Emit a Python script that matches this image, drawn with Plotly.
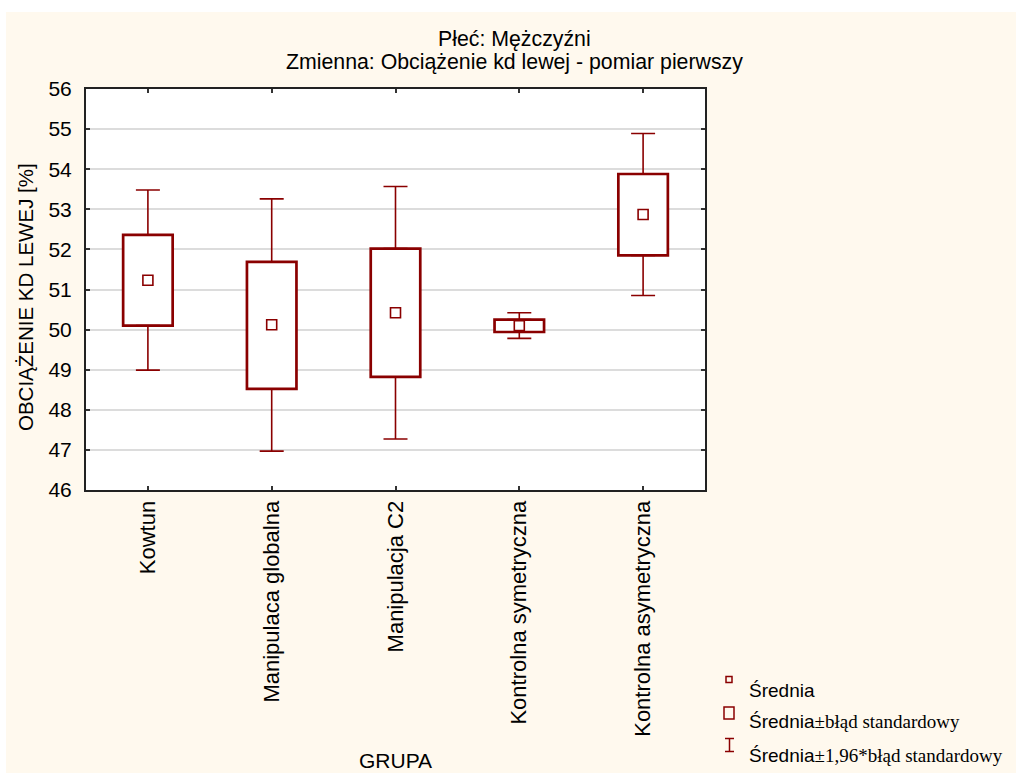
import plotly.graph_objects as go

# Group labels and summary statistics (mean, mean ± SE, mean ± 1.96*SE)
groups = ["Kowtun", "Manipulaca globalna", "Manipulacja C2",
          "Kontrolna symetryczna", "Kontrolna asymetryczna"]
means = [51.23, 50.12, 50.42, 50.10, 52.87]
se_low = [50.10, 48.52, 48.82, 49.94, 51.85]
se_high = [52.36, 51.69, 52.02, 50.25, 53.88]
ci_low = [48.99, 46.97, 47.27, 49.78, 50.85]
ci_high = [53.48, 53.26, 53.57, 50.42, 54.89]

y_ticks = [46, 47, 48, 49, 50, 51, 52, 53, 54, 55, 56]

DARKRED = "#8a0000"
CREAM = "#fff9ee"
SANS = "Liberation Sans, Arial, sans-serif"
SERIF = "Liberation Serif, Times New Roman, serif"

W, H = 1016, 773
ML, MR, MT, MB = 86, 311, 89, 283
PW = W - ML - MR
PH = H - MT - MB


def px(x):
    return (x - ML) / PW


def py(y):
    return (H - MB - y) / PH


fig = go.Figure()

# Mean ± standard error boxes
fig.add_trace(go.Bar(
    x=groups,
    y=[h - l for h, l in zip(se_high, se_low)],
    base=se_low,
    width=0.4,
    marker=dict(color="white", line=dict(color=DARKRED, width=2.7)),
    hoverinfo="skip",
))

# Whiskers up to mean + 1.96*SE
fig.add_trace(go.Scatter(
    x=groups, y=se_high, mode="markers",
    marker=dict(opacity=0, size=1),
    error_y=dict(type="data", symmetric=False,
                 array=[c - s for c, s in zip(ci_high, se_high)],
                 arrayminus=[0] * len(groups),
                 color=DARKRED, thickness=1.6, width=12),
    hoverinfo="skip",
))

# Whiskers down to mean - 1.96*SE
fig.add_trace(go.Scatter(
    x=groups, y=se_low, mode="markers",
    marker=dict(opacity=0, size=1),
    error_y=dict(type="data", symmetric=False,
                 array=[0] * len(groups),
                 arrayminus=[s - c for s, c in zip(se_low, ci_low)],
                 color=DARKRED, thickness=1.6, width=12),
    hoverinfo="skip",
))

# Means
fig.add_trace(go.Scatter(
    x=groups, y=means, mode="markers",
    marker=dict(symbol="square-open", size=10, color=DARKRED,
                line=dict(width=1.6, color=DARKRED)),
))

shapes = [
    # white page strips around the cream panel
    dict(type="rect", xref="paper", yref="paper",
         x0=px(-5), x1=px(W + 5), y0=py(12), y1=py(-5),
         line=dict(width=0), fillcolor="white", layer="below"),
    dict(type="rect", xref="paper", yref="paper",
         x0=px(-5), x1=px(6), y0=py(H + 5), y1=py(-5),
         line=dict(width=0), fillcolor="white", layer="below"),
    # legend glyphs
    dict(type="rect", xref="paper", yref="paper",
         x0=px(726), x1=px(732), y0=py(682.5), y1=py(676.5),
         line=dict(color=DARKRED, width=1.5), fillcolor="rgba(0,0,0,0)"),
    dict(type="rect", xref="paper", yref="paper",
         x0=px(724), x1=px(734), y0=py(719), y1=py(707),
         line=dict(color=DARKRED, width=1.5), fillcolor="rgba(0,0,0,0)"),
    dict(type="line", xref="paper", yref="paper",
         x0=px(729.5), x1=px(729.5), y0=py(751.5), y1=py(738.5),
         line=dict(color=DARKRED, width=1.5)),
    dict(type="line", xref="paper", yref="paper",
         x0=px(725), x1=px(734), y0=py(738.5), y1=py(738.5),
         line=dict(color=DARKRED, width=1.5)),
    dict(type="line", xref="paper", yref="paper",
         x0=px(725), x1=px(734), y0=py(751.5), y1=py(751.5),
         line=dict(color=DARKRED, width=1.5)),
]

annotations = [
    dict(text="Płeć: Mężczyźni", x=px(514), y=py(39), size=21.3),
    dict(text="Zmienna: Obciążenie kd lewej - pomiar pierwszy",
         x=px(514), y=py(62), size=21.3),
    dict(text="OBCIĄŻENIE KD LEWEJ [%]", x=px(25), y=py(297),
         textangle=-90, size=20.5),
    dict(text="GRUPA", x=px(395), y=py(760), size=21),
]
for a in annotations:
    sz = a.pop("size")
    a.update(xref="paper", yref="paper", showarrow=False,
             xanchor="center", yanchor="middle",
             font=dict(family=SANS, size=sz, color="black"))

serif_span = '<span style="font-family:' + SERIF + '">'
legend_rows = [
    ("Średnia", 690),
    ("Średnia" + serif_span + "±błąd standardowy</span>", 721),
    ("Średnia" + serif_span + "±1,96*błąd standardowy</span>", 755),
]
for txt, yy in legend_rows:
    annotations.append(dict(
        text=txt, x=px(747), y=py(yy), xref="paper", yref="paper",
        showarrow=False, xanchor="left", yanchor="middle",
        font=dict(family=SANS, size=19, color="black")))

fig.update_layout(
    width=W, height=H,
    margin=dict(l=ML, r=MR, t=MT, b=MB, pad=0),
    paper_bgcolor=CREAM,
    plot_bgcolor="white",
    showlegend=False,
    shapes=shapes,
    annotations=annotations,
    font=dict(family=SANS, size=20, color="black"),
)

fig.update_xaxes(
    type="category", range=[-0.5, 4.5],
    tickangle=-90, ticks="inside", ticklen=4, tickwidth=1.5,
    tickcolor="#333", showline=True, linecolor="#222", linewidth=2,
    mirror="ticks", showgrid=False, zeroline=False,
    tickfont=dict(family=SANS, size=22, color="black"),
)
fig.update_yaxes(
    range=[46, 56], tickvals=y_ticks, ticktext=[str(v) for v in y_ticks],
    ticks="inside", ticklen=4, tickwidth=1.5, tickcolor="#333",
    showline=True, linecolor="#222", linewidth=2, mirror="ticks",
    showgrid=True, gridcolor="#dcdcdc", gridwidth=1.5, zeroline=False,
    ticklabelstandoff=8,
    tickfont=dict(family=SANS, size=21, color="black"),
)

fig.write_html("out.html")
